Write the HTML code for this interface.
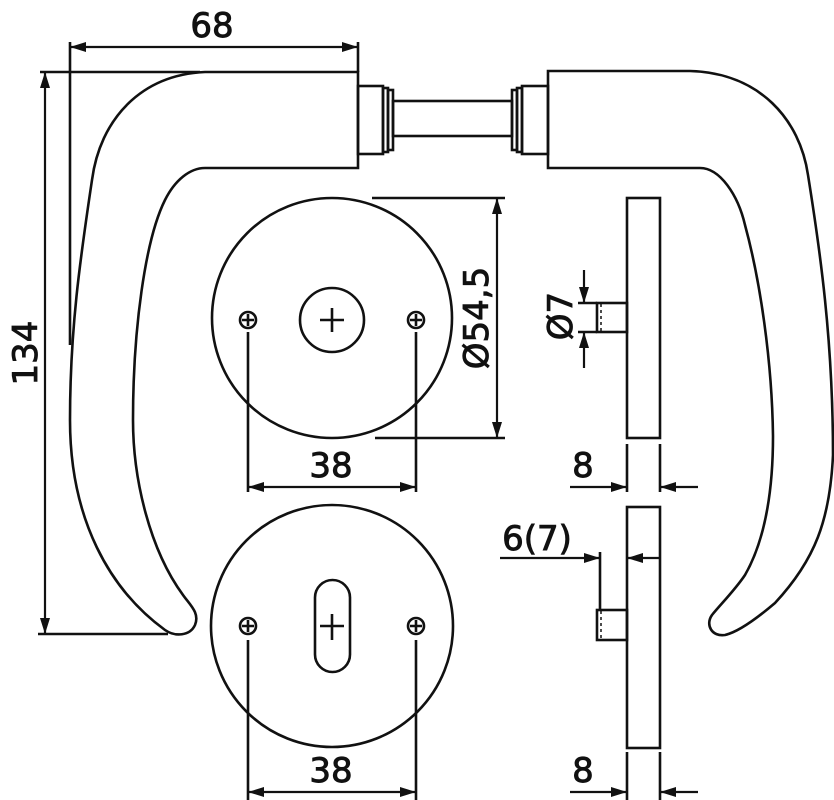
<!DOCTYPE html>
<html><head><style>
body{margin:0;background:#fff}
svg{display:block}
text{font-family:"DejaVu Sans","Liberation Sans",sans-serif;font-size:34px;fill:#111;stroke:#111;stroke-width:0.9}
</style></head><body>
<svg width="834" height="800" viewBox="0 0 834 800" xmlns="http://www.w3.org/2000/svg">
<defs>
<marker id="a" viewBox="0 0 16 10" refX="16" refY="5" markerWidth="16" markerHeight="10" markerUnits="userSpaceOnUse" orient="auto-start-reverse">
<path d="M0,0 L16,5 L0,10 Z" fill="#111"/></marker>
</defs>
<g fill="none" stroke="#111" stroke-width="2.6">
<path d="M358,72 L205,72 C140,75 100,120 92,180 C80,260 70,330 70,420 C70,520 110,590 165,630 C175,637 190,636 195,625 C200,613 190,605 183,595 C150,550 133,480 133,420 C133,330 145,240 165,200 C175,180 190,168 205,168 L358,168 Z"/>
<path d="M548,71 L690,71 C760,73 800,120 808,175 C820,250 833,340 833,455 C830,520 815,560 775,603 C755,620 738,632 725,635 C712,637 705,625 712,615 C720,605 735,590 745,575 C765,540 773,490 773,436 C772,360 760,280 745,225 C738,195 720,168 700,168 L548,168 Z"/>
<rect x="358" y="86" width="25" height="68"/>
<rect x="383" y="88" width="5" height="64"/>
<rect x="388" y="90" width="5" height="60"/>
<rect x="393" y="101" width="119" height="35"/>
<rect x="512" y="90" width="5" height="60"/>
<rect x="517" y="88" width="5" height="64"/>
<rect x="522" y="86" width="26" height="68"/>
<circle cx="332" cy="318" r="120"/>
<circle cx="332" cy="320" r="32"/>
<path d="M320,320 H344 M332,308 V332"/>
<circle cx="248" cy="320" r="8"/><path d="M242,320 H254 M248,314 V326"/>
<circle cx="416" cy="320" r="8"/><path d="M410,320 H422 M416,314 V326"/>
<path d="M248,332 V492 M416,332 V492"/>
<circle cx="332" cy="626" r="121"/>
<rect x="315" y="580" width="35" height="92" rx="17.5"/>
<path d="M320,626 H344 M332,614 V640"/>
<circle cx="248" cy="626" r="8"/><path d="M242,626 H254 M248,620 V632"/>
<circle cx="416" cy="626" r="8"/><path d="M410,626 H422 M416,620 V632"/>
<path d="M248,640 V800 M416,640 V800"/>
<rect x="627" y="198" width="33" height="240"/>
<rect x="597" y="303" width="30" height="29"/>
<path d="M601,304 V331" stroke-dasharray="3,3" stroke-width="1.5"/>
<rect x="627" y="507" width="33" height="241"/>
<rect x="597" y="610" width="30" height="30"/>
<path d="M601,611 V639" stroke-dasharray="3,3" stroke-width="1.5"/>
<path d="M600,552 V610"/>
<path d="M70,42 V345 M358,42 V72 M40,72 H200 M38,634 H168 M372,198 H505 M375,438 H505 M578,303 H597 M578,332 H597 M627,444 V492 M660,444 V492 M627,752 V800 M660,752 V800"/>
</g>
<g stroke="#111" stroke-width="2.2" fill="none">
<line x1="70" y1="47" x2="358" y2="47" marker-start="url(#a)" marker-end="url(#a)"/>
<line x1="45" y1="72" x2="45" y2="634" marker-start="url(#a)" marker-end="url(#a)"/>
<line x1="497" y1="198" x2="497" y2="438" marker-start="url(#a)" marker-end="url(#a)"/>
<line x1="248" y1="487" x2="416" y2="487" marker-start="url(#a)" marker-end="url(#a)"/>
<line x1="248" y1="792" x2="416" y2="792" marker-start="url(#a)" marker-end="url(#a)"/>
<line x1="584" y1="270" x2="584" y2="303" marker-end="url(#a)"/>
<line x1="584" y1="368" x2="584" y2="332" marker-end="url(#a)"/>
<line x1="570" y1="487" x2="627" y2="487" marker-end="url(#a)"/>
<line x1="698" y1="487" x2="660" y2="487" marker-end="url(#a)"/>
<line x1="570" y1="792" x2="627" y2="792" marker-end="url(#a)"/>
<line x1="698" y1="792" x2="660" y2="792" marker-end="url(#a)"/>
<line x1="500" y1="558" x2="600" y2="558" marker-end="url(#a)"/>
<line x1="660" y1="558" x2="627" y2="558" marker-end="url(#a)"/>
</g>
<text x="212" y="37" text-anchor="middle">68</text>
<text transform="translate(37,353) rotate(-90)" text-anchor="middle">134</text>
<text transform="translate(488,318) rotate(-90)" text-anchor="middle">Ø54,5</text>
<text transform="translate(572,316) rotate(-90)" text-anchor="middle">Ø7</text>
<text x="331" y="477" text-anchor="middle">38</text>
<text x="331" y="782" text-anchor="middle">38</text>
<text x="583" y="477" text-anchor="middle">8</text>
<text x="583" y="782" text-anchor="middle">8</text>
<text x="537" y="550" text-anchor="middle">6(7)</text>
</svg>
</body></html>
